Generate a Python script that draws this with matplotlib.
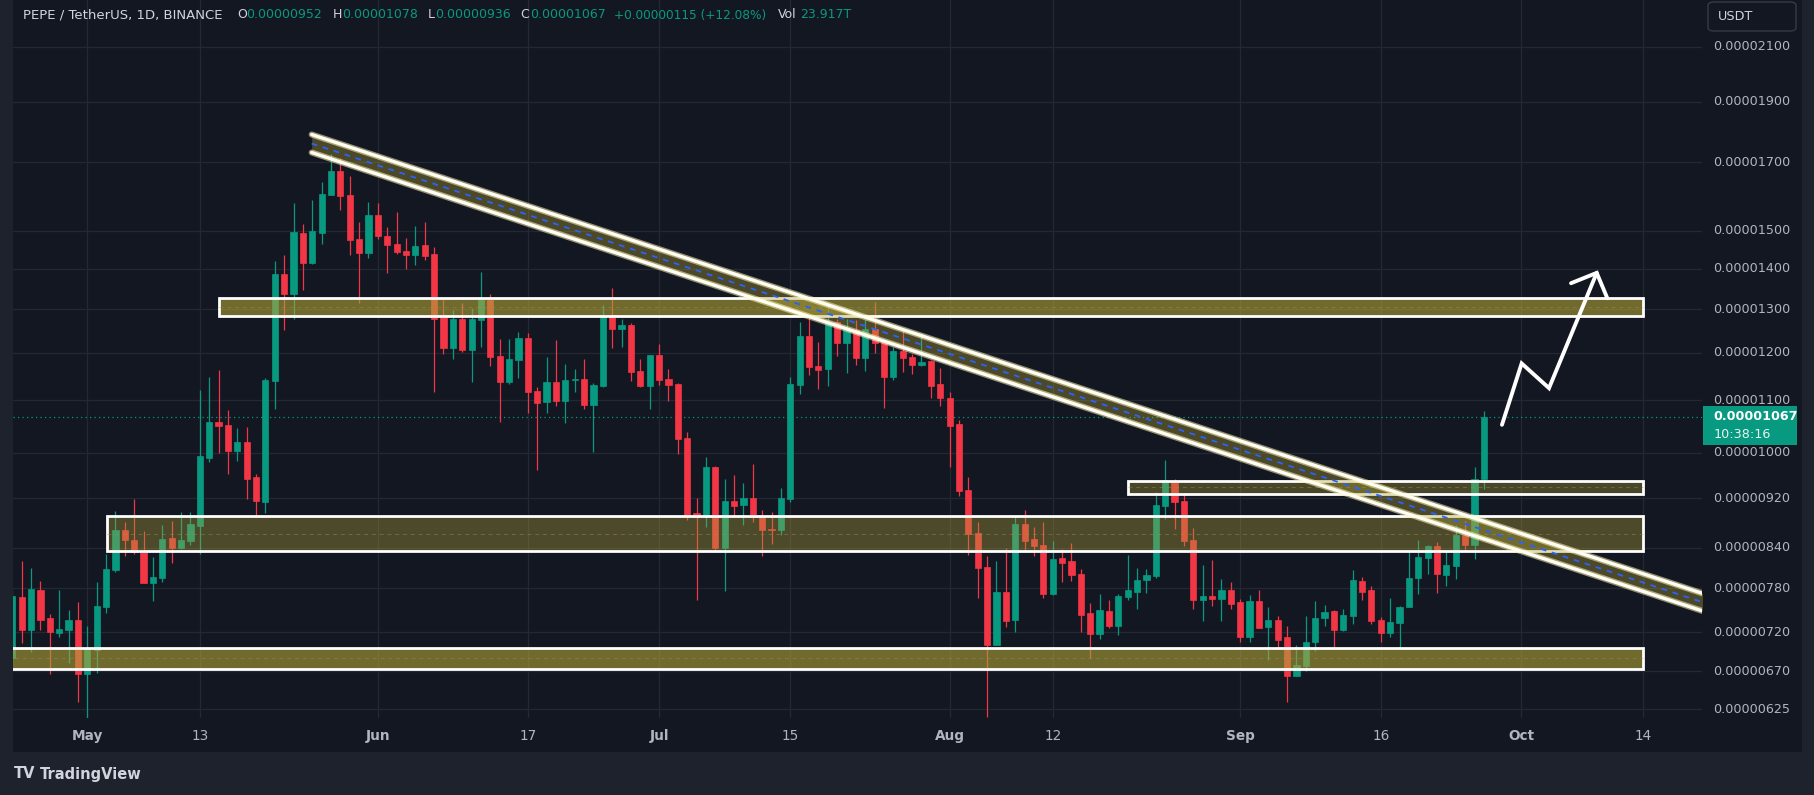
import numpy as np
import pandas as pd
import matplotlib
matplotlib.use("Agg")
import matplotlib.pyplot as plt
from matplotlib.patches import Rectangle, FancyBboxPatch
from matplotlib.colors import to_rgba

W, H = 1815, 795
SCALE = 1e-8  # values below are in units of 0.00000001 USDT

# ---------------- data ----------------
first_date = "2024-04-23"
origin_date = "2024-05-01"

opens = [687, 768, 723, 778, 739, 719, 723, 736, 667, 697, 754, 807, 868, 852, 835, 788, 795, 855, 840, 850,
         874, 990, 1057, 1051, 1003, 1019, 956, 914, 1140, 1386, 1336, 1494, 1414, 1494, 1601, 1674, 1601, 1478, 1440, 1544,
         1486, 1464, 1446, 1435, 1461, 1438, 1281, 1211, 1276, 1206, 1274, 1322, 1193, 1138, 1184, 1233, 1119, 1097, 1138, 1099,
         1142, 1144, 1091, 1130, 1286, 1253, 1262, 1161, 1130, 1195, 1144, 1134, 1027, 895, 889, 974, 840, 915, 908, 921,
         890, 869, 868, 919, 1132, 1238, 1171, 1165, 1269, 1222, 1251, 1189, 1253, 1224, 1148, 1204, 1191, 1173, 1182, 1134,
         1105, 1053, 934, 863, 811, 703, 775, 736, 878, 854, 844, 772, 824, 820, 801, 746, 718, 749, 728, 768,
         775, 792, 798, 907, 949, 915, 852, 763, 769, 765, 777, 761, 714, 762, 727, 736, 713, 665, 677, 707,
         739, 749, 723, 741, 791, 777, 736, 719, 732, 754, 795, 824, 843, 800, 813, 860, 844, 952]
highs = [778, 820, 810, 791, 744, 778, 750, 761, 728, 789, 831, 898, 881, 919, 866, 826, 876, 882, 897, 897,
         1121, 1148, 1163, 1081, 1046, 1048, 962, 1146, 1419, 1435, 1578, 1519, 1587, 1640, 1727, 1714, 1658, 1524, 1581, 1578,
         1511, 1552, 1481, 1513, 1524, 1456, 1324, 1298, 1315, 1303, 1391, 1336, 1231, 1231, 1247, 1244, 1127, 1191, 1229, 1176,
         1165, 1186, 1136, 1310, 1351, 1276, 1267, 1186, 1195, 1220, 1165, 1136, 1038, 920, 992, 976, 953, 960, 946, 979,
         900, 897, 937, 1148, 1269, 1288, 1224, 1308, 1276, 1276, 1274, 1276, 1317, 1229, 1213, 1251, 1197, 1244, 1184, 1167,
         1117, 1061, 956, 881, 827, 820, 840, 890, 900, 873, 881, 850, 838, 847, 808, 759, 772, 763, 772, 829,
         810, 808, 931, 986, 953, 929, 871, 814, 821, 793, 789, 765, 771, 778, 754, 741, 728, 703, 741, 762,
         757, 750, 751, 807, 797, 784, 740, 766, 755, 835, 852, 844, 849, 835, 876, 882, 974, 1078]
lows = [678, 706, 694, 723, 667, 714, 680, 634, 615, 668, 746, 803, 827, 831, 787, 762, 789, 817, 838, 844,
        831, 983, 1000, 962, 984, 919, 890, 895, 1083, 1251, 1276, 1346, 1411, 1464, 1601, 1558, 1435, 1315, 1427, 1478,
        1388, 1438, 1399, 1409, 1422, 1117, 1197, 1186, 1202, 1138, 1213, 1171, 1057, 1134, 1146, 1075, 968, 1075, 1089, 1055,
        1117, 1083, 1001, 1127, 1211, 1213, 1140, 1127, 1083, 1132, 1099, 997, 884, 763, 873, 834, 776, 890, 876, 881,
        827, 846, 860, 914, 1113, 1152, 1123, 1130, 1193, 1156, 1173, 1161, 1199, 1085, 1142, 1159, 1155, 1171, 1105, 1089,
        974, 924, 829, 766, 617, 703, 727, 720, 833, 827, 766, 771, 789, 791, 720, 687, 711, 725, 716, 763,
        751, 774, 795, 886, 870, 843, 751, 735, 755, 735, 751, 707, 707, 725, 684, 701, 634, 665, 671, 696,
        728, 698, 721, 731, 763, 731, 707, 713, 700, 754, 772, 801, 774, 784, 793, 837, 823, 936]
closes = [769, 723, 779, 736, 720, 724, 736, 667, 698, 755, 808, 868, 852, 834, 788, 797, 854, 840, 852, 878,
          994, 1057, 1050, 1003, 1019, 953, 915, 1142, 1386, 1336, 1497, 1414, 1499, 1604, 1674, 1598, 1475, 1440, 1544, 1486,
          1461, 1443, 1435, 1459, 1433, 1276, 1211, 1276, 1206, 1276, 1322, 1191, 1138, 1186, 1233, 1117, 1095, 1138, 1099, 1142,
          1144, 1091, 1132, 1286, 1253, 1262, 1159, 1130, 1195, 1142, 1132, 1025, 892, 889, 974, 840, 915, 907, 921, 889,
          868, 868, 920, 1134, 1238, 1169, 1163, 1269, 1222, 1251, 1189, 1253, 1222, 1148, 1204, 1189, 1173, 1180, 1130, 1105,
          1050, 932, 861, 810, 703, 775, 735, 878, 850, 843, 772, 823, 817, 800, 743, 718, 750, 728, 769, 777,
          792, 800, 908, 951, 914, 850, 763, 769, 765, 778, 758, 714, 762, 726, 736, 710, 665, 678, 707, 739,
          747, 723, 743, 792, 775, 735, 719, 733, 754, 795, 826, 843, 801, 814, 860, 844, 953, 1067]

tick_prices = [2100, 1900, 1700, 1500, 1400, 1300, 1200, 1100, 1000, 920, 840, 780, 720, 670, 625]
date_ticks = ["2024-05-01", "2024-05-13", "2024-06-01", "2024-06-17", "2024-07-01", "2024-07-15",
              "2024-08-01", "2024-08-12", "2024-09-01", "2024-09-16", "2024-10-01", "2024-10-14"]
date_labels = ["May", "13", "Jun", "17", "Jul", "15", "Aug", "12", "Sep", "16", "Oct", "14"]

header_symbol = "PEPE / TetherUS, 1D, BINANCE"
header_change = "+0.00000115 (+12.08%)"
header_volume = "23.917T"
countdown = "10:38:16"

# drawings (days counted from origin_date, prices in 1e-8)
zone_top = [1327, 890, 950, 700]
zone_bottom = [1283, 835, 927, 673]
zone_start = [14.1, 2.07, 111.0, -12.0]
zone_end = [165.95, 165.95, 165.95, 165.95]

channel_days = [23.94, 176.0]
channel_upper = [1789, 757]
channel_lower = [1731, 733]

arrow_days = [150.93, 153.03, 155.95, 161.04]
arrow_prices = [1052, 1177, 1125, 1389]
head_days = [158.3, 161.04, 162.17]
head_prices = [1363, 1389, 1326]

# ---------------- styles ----------------
BG = "#131722"
FRAME = "#1e222d"
GRID = "#242833"
UP = "#089981"
DOWN = "#f23645"
TXT = "#b2b5be"
HDR = "#d1d4dc"
ZONE = "#b0a339"
zone_alpha = [0.6, 0.37, 0.35, 0.6]

plt.rcParams['font.family'] = ['DejaVu Sans']

fig = plt.figure(figsize=(W / 100, H / 100), dpi=100, facecolor=FRAME)

def fx(px):
    return px / W

def fy(py):
    return 1 - py / H

panel = Rectangle((fx(12.7), fy(751.7)), (1801.7 - 12.7) / W, 751.7 / H,
                  transform=fig.transFigure, facecolor=BG, edgecolor="none", zorder=-10)
fig.patches.append(panel)

ax = fig.add_axes([fx(12.7), fy(718.3), 1689 / W, 718.3 / H])
ax.set_zorder(1)
ax.set_facecolor(BG)
ax.set_yscale("log")
ax.set_xlim(-7.96, 172.24)
ax.set_ylim(615 * SCALE, 2288 * SCALE)
for s in ax.spines.values():
    s.set_visible(False)
ax.set_xticks([])
ax.set_yticks([])
ax.set_yticks([], minor=True)

origin = pd.Timestamp(origin_date)
dates = pd.date_range(first_date, periods=len(opens), freq="D")
x = np.array((dates - origin).days, dtype=float)
o = np.array(opens) * SCALE
h = np.array(highs) * SCALE
l = np.array(lows) * SCALE
c = np.array(closes) * SCALE
cols = np.where(c >= o, UP, DOWN)

tick_x = np.array((pd.to_datetime(date_ticks) - origin).days, dtype=float)

# grid
for p in tick_prices:
    ax.axhline(p * SCALE, color=GRID, lw=0.9, zorder=0.5)
for tx in tick_x:
    ax.axvline(tx, color=GRID, lw=0.9, zorder=0.5)

# current price dotted line
ax.axhline(c[-1], color=UP, lw=0.9, linestyle=(0, (1, 2.6)), zorder=1)

# candles
ax.vlines(x, l, h, colors=cols, lw=0.9, zorder=2)
ax.bar(x, np.abs(c - o), bottom=np.minimum(o, c), width=0.66, color=cols,
       edgecolor=cols, lw=0.5, zorder=2.1)

# zones
for top, bot, x0, x1, a in zip(zone_top, zone_bottom, zone_start, zone_end, zone_alpha):
    rect = Rectangle((x0, bot * SCALE), x1 - x0, (top - bot) * SCALE,
                     facecolor=to_rgba(ZONE, a), edgecolor="white", lw=2.0, zorder=3)
    ax.add_patch(rect)
    mid = np.sqrt(top * bot) * SCALE
    ax.plot([x0, x1], [mid, mid], color="#9c9446", lw=0.7, alpha=0.45,
            linestyle=(0, (4, 4)), zorder=3.1)

# channel
cu = np.array(channel_upper) * SCALE
cl = np.array(channel_lower) * SCALE
ax.fill_between(channel_days, cl, cu, color=to_rgba(ZONE, 0.36), lw=0, zorder=3.5)
for line in (cu, cl):
    ax.plot(channel_days, line, color="#fff3b0", lw=4.4, alpha=0.55,
            solid_capstyle="round", zorder=3.6)
    ax.plot(channel_days, line, color="#fffef5", lw=2.4,
            solid_capstyle="round", zorder=3.7)
cm = np.sqrt(cu * cl)
ax.plot(channel_days, cm, color="#2962ff", lw=1.3, linestyle=(0, (3.2, 3.2)), zorder=3.8)

# arrow
ax.plot(arrow_days, np.array(arrow_prices) * SCALE, color="white", lw=2.8,
        solid_capstyle="round", solid_joinstyle="miter", zorder=5)
ax.plot(head_days, np.array(head_prices) * SCALE, color="white", lw=2.8,
        solid_capstyle="round", solid_joinstyle="miter", zorder=5)

# price axis labels
ytr = ax.get_yaxis_transform()
lab_x = (1713 - 12.7) / 1689
for p in tick_prices:
    ax.text(lab_x, p * SCALE, f"{p * SCALE:.8f}", transform=ytr, ha="left", va="center",
            color=TXT, fontsize=9.2, clip_on=False)

# current price tag
tag = Rectangle((fx(1703), fy(444.5)), 94 / W, 38.5 / H, transform=fig.transFigure,
                facecolor=UP, edgecolor="none", zorder=5)
fig.patches.append(tag)
fig.text(fx(1713.5), fy(417), f"{c[-1]:.8f}", color="white", fontsize=9.2,
         fontweight="bold", ha="left", va="center", zorder=6)
fig.text(fx(1713.5), fy(435), countdown, color="#e8f5f1", fontsize=9.2,
         ha="left", va="center", zorder=6)

# USDT button
btn = FancyBboxPatch((fx(1708), fy(31)), 88 / W, 29 / H, boxstyle="round,pad=0,rounding_size=0.004",
                     transform=fig.transFigure, facecolor=BG, edgecolor="#363a45", lw=1.0, zorder=5)
fig.patches.append(btn)
fig.text(fx(1718), fy(16), "USDT", color=HDR, fontsize=9.2, ha="left", va="center", zorder=6)

# time axis labels
xtr = ax.get_xaxis_transform()
lab_y = (718.3 - 735.7) / 718.3
for tx, lab in zip(tick_x, date_labels):
    bold = not lab.isdigit()
    ax.text(tx, lab_y, lab, transform=xtr, ha="center", va="center", color=TXT,
            fontsize=9.8, fontweight="bold" if bold else "normal", clip_on=False)

# header
hy = fy(15)
fs = 9.0
fig.text(fx(23), hy, header_symbol, color=HDR, fontsize=9.5, va="center", zorder=6)
fig.text(fx(237), hy, "O", color=HDR, fontsize=fs, va="center", zorder=6)
fig.text(fx(246.5), hy, f"{o[-1]:.8f}", color=UP, fontsize=fs, va="center", zorder=6)
fig.text(fx(332.7), hy, "H", color=HDR, fontsize=fs, va="center", zorder=6)
fig.text(fx(342), hy, f"{h[-1]:.8f}", color=UP, fontsize=fs, va="center", zorder=6)
fig.text(fx(427.5), hy, "L", color=HDR, fontsize=fs, va="center", zorder=6)
fig.text(fx(435.5), hy, f"{l[-1]:.8f}", color=UP, fontsize=fs, va="center", zorder=6)
fig.text(fx(520.4), hy, "C", color=HDR, fontsize=fs, va="center", zorder=6)
fig.text(fx(530.5), hy, f"{c[-1]:.8f}", color=UP, fontsize=fs, va="center", zorder=6)
fig.text(fx(614), hy, header_change, color=UP, fontsize=8.7, va="center", zorder=6)
fig.text(fx(778), hy, "Vol", color=HDR, fontsize=fs, va="center", zorder=6)
fig.text(fx(800), hy, header_volume, color=UP, fontsize=fs, va="center", zorder=6)

# TradingView logo
fig.text(fx(14), fy(774), "TV", color=HDR, fontsize=10.5, fontweight="bold", va="center")
fig.text(fx(40), fy(774), "TradingView", color=HDR, fontsize=10.5, fontweight="bold", va="center")

fig.savefig("out.png", dpi=100, facecolor=FRAME)
